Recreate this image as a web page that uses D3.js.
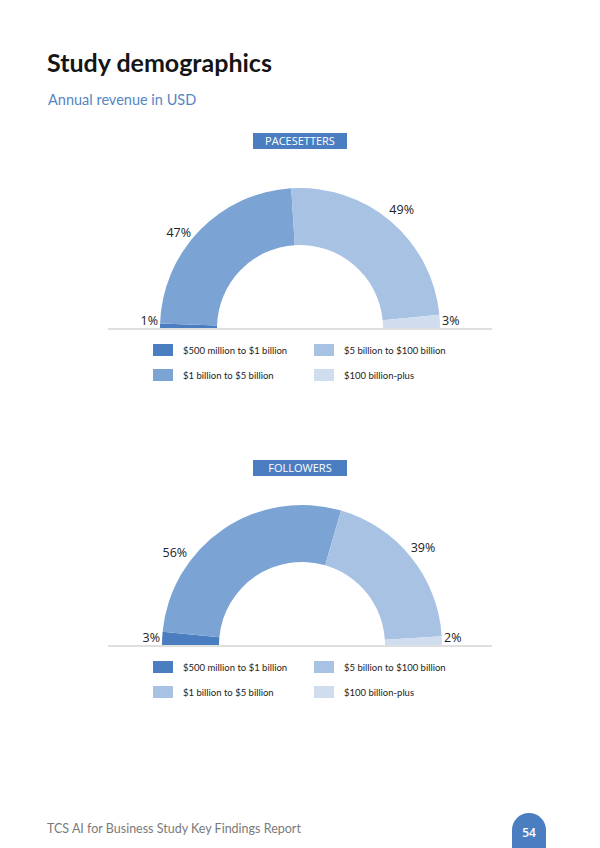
<!DOCTYPE html>
<html>
<head>
<meta charset="utf-8">
<script src="https://cdn.jsdelivr.net/npm/d3@7"></script>
<style>
  body { margin: 0; background: #fff; }
  svg { display: block; }
</style>
</head>
<body>
<div id="chart"></div>
<script>
// Revenue bands (same order as the slices, left to right)
var categories = ['$500 million to $1 billion', '$1 billion to $5 billion',
                  '$5 billion to $100 billion', '$100 billion-plus'];
var panelTitles = ['PACESETTERS', 'FOLLOWERS'];
var pacesetterValues = [1, 47, 49, 3];
var followerValues = [3, 56, 39, 2];

var width = 600, height = 848;
var sliceColors = ['#4a7ec0', '#7ba3d3', '#a7c2e3', '#d0ddef'];

// layout for each panel
var panels = [
  { title: panelTitles[0], values: pacesetterValues, cx: 300, cy: 328, boxY: 133,
    legendColors: sliceColors,
    nudge: [[0, 0], [-10, 13], [1, 0], [0, 0]] },
  { title: panelTitles[1], values: followerValues, cx: 302, cy: 645, boxY: 460,
    legendColors: [sliceColors[0], sliceColors[2], sliceColors[2], sliceColors[3]],
    nudge: [[0, 0], [-40, 36], [0, 0], [0, 0]] }
];

var svg = d3.select('#chart')
    .append('svg')
    .attr('width', width)
    .attr('height', height);

svg.append('rect').attr('width', width).attr('height', height).attr('fill', '#fff');

// Heading
svg.append('text')
    .attr('x', 47).attr('y', 72)
    .attr('font-family', 'Lato, sans-serif')
    .attr('font-weight', 700)
    .attr('font-size', 25)
    .attr('fill', '#151515')
    .text('Study demographics');

svg.append('text')
    .attr('x', 48).attr('y', 105)
    .attr('font-family', 'Lato, sans-serif')
    .attr('font-size', 14.5)
    .attr('fill', '#5585c4')
    .text('Annual revenue in USD');

var outerR = 140, innerR = 83;
var pie = d3.pie().sort(null).startAngle(-Math.PI / 2).endAngle(Math.PI / 2);
var arc = d3.arc().innerRadius(innerR).outerRadius(outerR);
var labelArc = d3.arc().innerRadius(155).outerRadius(155);

panels.forEach(function (p) {
    var g = svg.append('g');

    // title box
    g.append('rect')
        .attr('x', 253).attr('y', p.boxY)
        .attr('width', 94).attr('height', 16)
        .attr('fill', '#4a7ec0');
    g.append('text')
        .attr('x', 300).attr('y', p.boxY + 12)
        .attr('text-anchor', 'middle')
        .attr('font-family', '"Open Sans", sans-serif')
        .attr('font-size', 11)
        .attr('fill', '#fff')
        .text(p.title);

    var arcs = pie(p.values);
    var chart = g.append('g').attr('transform', 'translate(' + p.cx + ',' + p.cy + ')');

    chart.selectAll('path')
        .data(arcs)
        .enter()
        .append('path')
        .attr('d', arc)
        .attr('fill', function (d, i) { return sliceColors[i]; });

    // baseline
    g.append('line')
        .attr('x1', 108).attr('x2', 492)
        .attr('y1', p.cy + 1).attr('y2', p.cy + 1)
        .attr('stroke', '#bfbfbf').attr('stroke-width', 1);

    // value labels
    chart.selectAll('text.val')
        .data(arcs)
        .enter()
        .append('text')
        .attr('class', 'val')
        .attr('font-family', '"Open Sans", sans-serif')
        .attr('font-size', 12.5)
        .attr('fill', '#222')
        .attr('text-anchor', function (d, i) {
            if (i === 0) return 'end';
            if (i === arcs.length - 1) return 'start';
            return 'middle';
        })
        .attr('x', function (d, i) {
            if (i === 0) return -outerR - 2;
            if (i === arcs.length - 1) return outerR + 2;
            return labelArc.centroid(d)[0] + p.nudge[i][0];
        })
        .attr('y', function (d, i) {
            if (i === 0 || i === arcs.length - 1) return -3;
            return labelArc.centroid(d)[1] + 4 + p.nudge[i][1];
        })
        .text(function (d) { return d.data + '%'; });

    // legend
    var leg = g.selectAll('g.leg')
        .data(categories)
        .enter()
        .append('g')
        .attr('class', 'leg')
        .attr('transform', function (d, i) {
            var col = Math.floor(i / 2), row = i % 2;
            return 'translate(' + (153 + col * 161) + ',' + (p.cy + 16 + row * 25) + ')';
        });
    leg.append('rect')
        .attr('width', 20).attr('height', 12)
        .attr('fill', function (d, i) { return p.legendColors[i]; });
    leg.append('text')
        .attr('x', 30).attr('y', 9.5)
        .attr('font-family', 'Lato, sans-serif')
        .attr('font-size', 9.5)
        .attr('fill', '#222')
        .text(function (d) { return d; });
});

// Footer
svg.append('text')
    .attr('x', 47).attr('y', 833)
    .attr('font-family', 'Lato, sans-serif')
    .attr('font-size', 12.5)
    .attr('fill', '#7a7a7a')
    .text('TCS AI for Business Study Key Findings Report');

svg.append('path')
    .attr('d', 'M512,848 V830 A17,17 0 0 1 546,830 V848 Z')
    .attr('fill', '#4a7ec0');
svg.append('text')
    .attr('x', 529).attr('y', 837)
    .attr('text-anchor', 'middle')
    .attr('font-family', '"Open Sans", sans-serif')
    .attr('font-weight', 600)
    .attr('font-size', 12)
    .attr('fill', '#fff')
    .text('54');
</script>
</body>
</html>
